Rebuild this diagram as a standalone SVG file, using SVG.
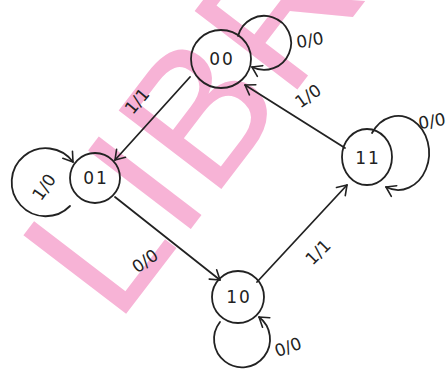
<svg xmlns="http://www.w3.org/2000/svg" width="447" height="374" viewBox="0 0 447 374">
<defs>
<marker id="ah" markerUnits="userSpaceOnUse" markerWidth="20" markerHeight="20" viewBox="-12 -10 14 20" refX="0" refY="0" orient="auto">
<path d="M-9,-6 L0,0 L-9,6" fill="none" stroke="#222" stroke-width="1.6" stroke-linecap="round" stroke-linejoin="round"/>
</marker>
<style>
.s{fill:none;stroke:#222;stroke-width:1.8;stroke-linecap:round}
.t{font-family:"DejaVu Sans","Noto Sans",sans-serif;font-size:17px;fill:#222;text-anchor:middle;dominant-baseline:central}
.n{font-size:17px;letter-spacing:2px}
.wm{font-family:"Liberation Sans",Arial,sans-serif;font-size:188px;fill:#f7b3d6}
</style>
</defs>
<rect width="447" height="374" fill="#fff"/>
<text class="wm" transform="translate(116.7,325.9) rotate(-52.6)">LIBR</text>
<g id="connectors">
<path class="s" d="M190,77 L115,160" marker-end="url(#ah)"/>
<path class="s" d="M345,148 L245,85" marker-end="url(#ah)"/>
<path class="s" d="M115,197 L220,280" marker-end="url(#ah)"/>
<path class="s" d="M257,282 L347,185" marker-end="url(#ah)"/>
<path class="s" d="M238,36 A27,27 0 1 1 252,67" marker-end="url(#ah)"/>
<path class="s" d="M70,206 A34,34 0 1 1 73,162" marker-end="url(#ah)"/>
<path class="s" d="M372,133 A31,37 0 1 1 386,187" marker-end="url(#ah)"/>
<path class="s" d="M220,322 A28,28 0 1 0 259,317" marker-end="url(#ah)"/>
<text class="t" transform="translate(310,40) rotate(-10)">0/0</text>
<text class="t" transform="translate(137,101) rotate(-50)">1/1</text>
<text class="t" transform="translate(308,96) rotate(-35)">1/0</text>
<text class="t" transform="translate(44,187) rotate(-55)">1/0</text>
<text class="t" transform="translate(145,261) rotate(-35)">0/0</text>
<text class="t" transform="translate(318,252) rotate(-45)">1/1</text>
<text class="t" transform="translate(432,121) rotate(-10)">0/0</text>
<text class="t" transform="translate(288,347) rotate(-20)">0/0</text>
</g>
<g id="s00"><ellipse class="s" cx="221" cy="59" rx="30" ry="29"/><text class="t n" x="222" y="59">00</text></g>
<g id="s01"><ellipse class="s" cx="95" cy="178" rx="25" ry="25"/><text class="t n" x="96" y="178">01</text></g>
<g id="s11"><ellipse class="s" cx="367" cy="157" rx="25" ry="28"/><text class="t n" x="368" y="158">11</text></g>
<g id="s10"><ellipse class="s" cx="238" cy="297" rx="26" ry="26"/><text class="t n" x="239" y="297">10</text></g>
</svg>
